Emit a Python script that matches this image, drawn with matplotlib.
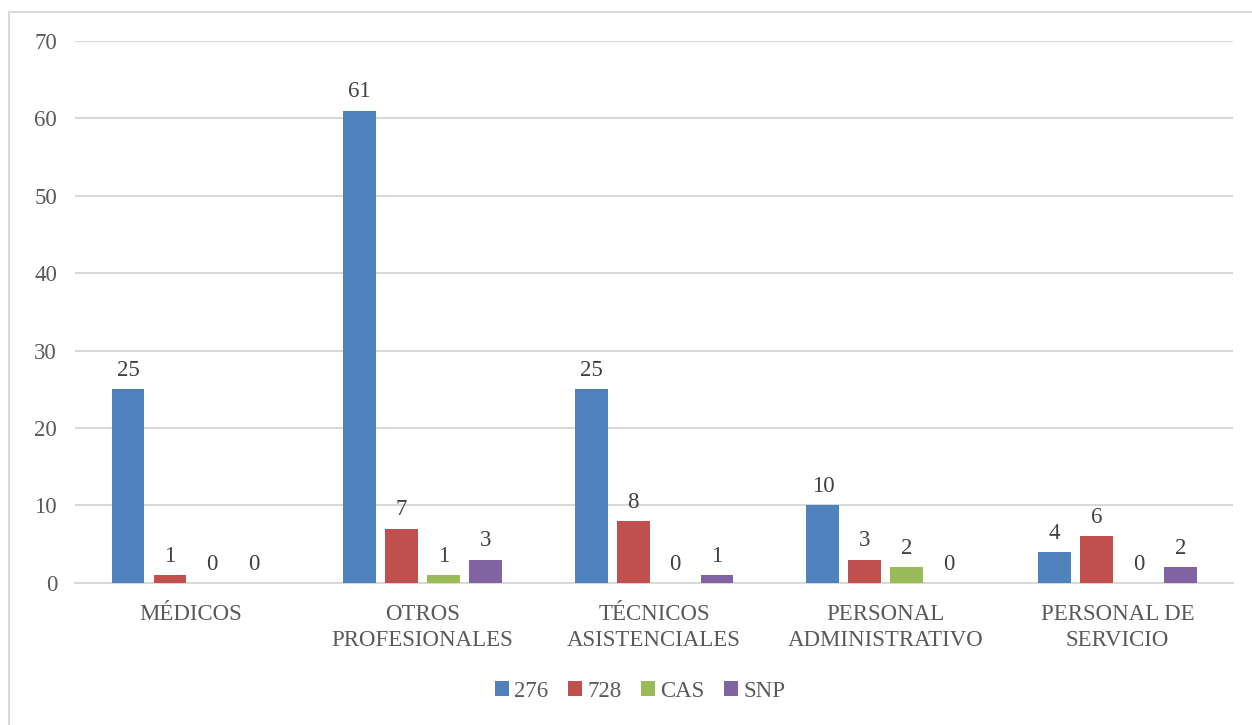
import numpy as np
import matplotlib
matplotlib.use("Agg")
import matplotlib.pyplot as plt
from matplotlib.patches import Rectangle

# Datos por categoría de personal
categorias = ["MÉDICOS", "OTROS\nPROFESIONALES", "TÉCNICOS\nASISTENCIALES",
              "PERSONAL\nADMINISTRATIVO", "PERSONAL DE\nSERVICIO"]
series = ["276", "728", "CAS", "SNP"]
v_276 = [25, 61, 25, 10, 4]
v_728 = [1, 7, 8, 3, 6]
v_cas = [0, 1, 0, 2, 0]
v_snp = [0, 3, 1, 0, 2]
colores = ["#4F81BD", "#C0504D", "#9BBB59", "#8064A2"]

plt.rcParams["font.family"] = ["Liberation Serif", "DejaVu Serif"]
tam = 16.5

fig = plt.figure(figsize=(12.52, 7.25), dpi=100)
ax = fig.add_axes([0.06, 0.196, 0.925, 0.7474])

x = np.arange(len(categorias))
ancho = 0.142
paso = 0.181
valores = [v_276, v_728, v_cas, v_snp]

for i, (nombre, vals, col) in enumerate(zip(series, valores, colores)):
    pos = x + (i - 1.5) * paso
    barras = ax.bar(pos, vals, ancho, color=col, label=nombre, zorder=3)
    for b, v in zip(barras, vals):
        ax.annotate(str(v), (b.get_x() + b.get_width() / 2, v),
                    xytext=(0, 6), textcoords="offset points",
                    ha="center", va="bottom", fontsize=tam, color="#404040")

ax.set_xlim(-0.5, len(categorias) - 0.5)
ax.set_ylim(0, 70)
ax.set_yticks(range(0, 71, 10))
ax.set_xticks(x)
ax.set_xticklabels(categorias, fontsize=tam, color="#595959", linespacing=1.35)
ax.tick_params(axis="y", labelsize=tam, labelcolor="#595959", length=0, pad=13)
ax.tick_params(axis="x", length=0, pad=15)

ax.grid(axis="y", color="#D9D9D9", linewidth=1.5, zorder=0)
for lado in ["top", "right", "left"]:
    ax.spines[lado].set_visible(False)
ax.spines["bottom"].set_color("#D9D9D9")
ax.spines["bottom"].set_linewidth(1.5)

ax.legend(loc="center", bbox_to_anchor=(0.488, -0.2), ncol=4, frameon=False,
          fontsize=tam, labelcolor="#595959", handlelength=0.6, handleheight=0.6,
          handletextpad=0.25, columnspacing=0.85)

# Marco exterior del gráfico
fig.patches.append(Rectangle((9 / 1252, -0.05), 1.1, 1 - 12 / 725 + 0.05,
                             transform=fig.transFigure, fill=False,
                             edgecolor="#D9D9D9", linewidth=1.5))

fig.savefig("out.png", dpi=100)
